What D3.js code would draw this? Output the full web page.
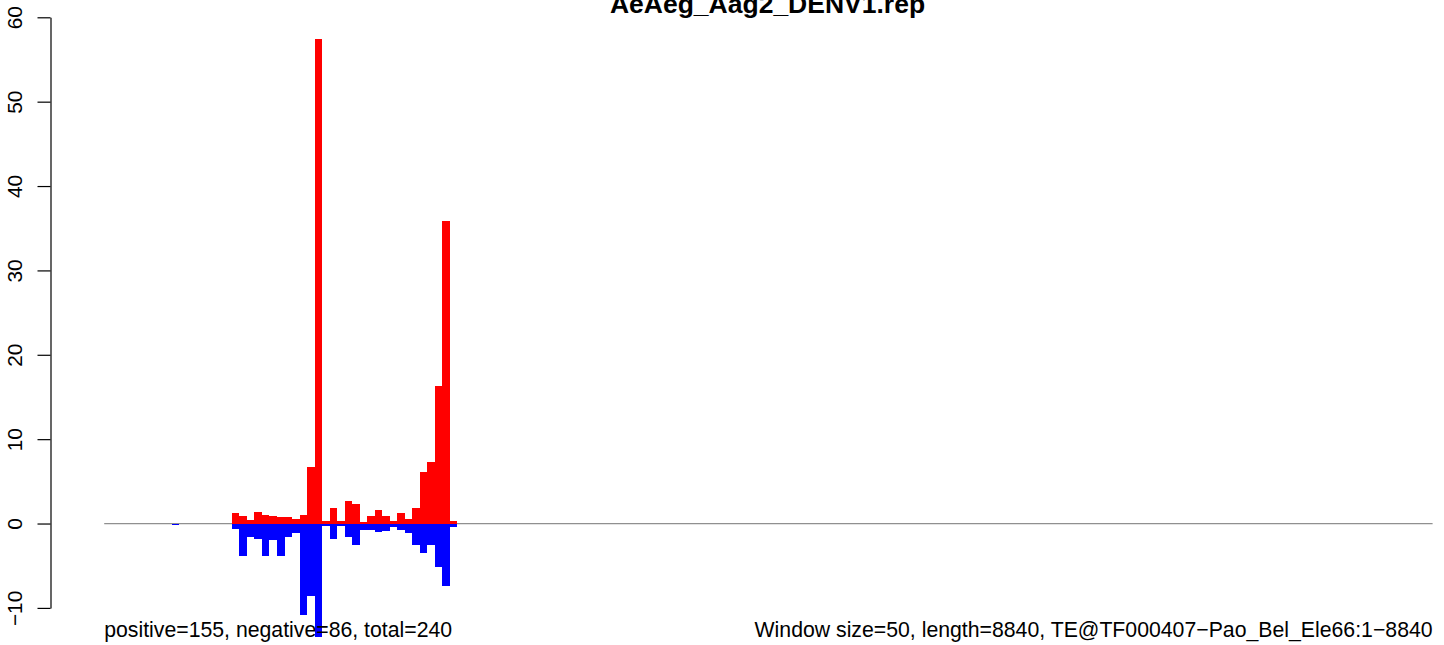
<!DOCTYPE html>
<html>
<head>
<meta charset="utf-8">
<script src="https://cdn.jsdelivr.net/npm/d3@7/dist/d3.min.js"></script>
<style>
  html, body { margin: 0; padding: 0; background: #fff; }
  svg { display: block; }
  text { font-family: "Liberation Sans", Arial, Helvetica, sans-serif; }
</style>
</head>
<body>
<script>
// ---- data ----
const titleText = "AeAeg_Aag2_DENV1.rep";
const seqLength = 8840;
const windowSize = 50;
const binIndex = [9, 17, 18, 19, 20, 21, 22, 23, 24, 25, 26, 27, 28, 29, 30, 31, 32, 33, 34, 35, 36, 37, 38, 39, 40, 41, 42, 43, 44, 45, 46];
const positiveValues = [0, 1.3, 0.85, 0.4, 1.4, 1.05, 0.9, 0.8, 0.8, 0.55, 1.0, 6.7, 57.4, 0.3, 1.85, 0.25, 2.7, 2.3, 0.2, 0.9, 1.6, 0.9, 0.3, 1.28, 0.53, 1.88, 6.14, 7.33, 16.35, 35.8, 0.33];
const negativeValues = [-0.15, -0.6, -3.9, -1.6, -1.8, -3.9, -1.95, -3.85, -1.6, -1.15, -10.9, -8.6, -13.4, -0.26, -1.8, -0.26, -1.56, -2.6, -0.75, -0.72, -1.0, -0.85, -0.47, -0.72, -1.15, -2.6, -3.5, -2.6, -5.1, -7.4, -0.45];
const yTicks = [-10, 0, 10, 20, 30, 40, 50, 60];
const leftNote = "positive=155, negative=86, total=240";
const rightNote = "Window size=50, length=8840, TE@TF000407\u2212Pao_Bel_Ele66:1\u22128840";

const W = 1444, H = 645;
const svg = d3.select("body").append("svg").attr("width", W).attr("height", H);
svg.append("rect").attr("width", W).attr("height", H).attr("fill", "#fff");

const x = d3.scaleLinear().domain([0, seqLength]).range([104.2, 1432.6]);
const y = d3.scaleLinear().domain([-10, 60]).range([607.9, 17.3]);

const bins = binIndex.map((b, i) => ({ start: b * windowSize, end: (b + 1) * windowSize, pos: positiveValues[i], neg: negativeValues[i] }));

// zero line
svg.append("line")
  .attr("x1", x(0)).attr("x2", x(seqLength))
  .attr("y1", y(0)).attr("y2", y(0))
  .attr("stroke", "#909090").attr("stroke-width", 1.2);

// positive bars
svg.append("g").selectAll("rect").data(bins.filter(d => d.pos > 0)).join("rect")
  .attr("x", d => x(d.start)).attr("width", d => x(d.end) - x(d.start))
  .attr("y", d => y(d.pos)).attr("height", d => y(0) - y(d.pos))
  .attr("fill", "#ff0000").attr("shape-rendering", "crispEdges");

// negative bars
svg.append("g").selectAll("rect").data(bins.filter(d => d.neg < 0)).join("rect")
  .attr("x", d => x(d.start)).attr("width", d => x(d.end) - x(d.start))
  .attr("y", y(0)).attr("height", d => y(d.neg) - y(0))
  .attr("fill", "#0000ff").attr("shape-rendering", "crispEdges");

// y axis
const axisX = 50.5;
const yAxis = svg.append("g").attr("transform", `translate(${axisX},0)`)
  .call(d3.axisLeft(y).tickValues(yTicks).tickSize(13).tickSizeOuter(0).tickFormat(d3.format("d")));
yAxis.select(".domain").attr("stroke", "#000").attr("stroke-width", 1.2);
yAxis.selectAll(".tick line").attr("stroke", "#000").attr("stroke-width", 1.2);
yAxis.selectAll(".tick text")
  .attr("transform", "rotate(-90)")
  .attr("x", 0).attr("y", -29).attr("dy", 0)
  .attr("text-anchor", "middle")
  .attr("font-size", 20.8)
  .attr("font-family", "Liberation Sans, Arial, sans-serif")
  .attr("fill", "#000");

// title
svg.append("text").attr("x", 767.5).attr("y", 13)
  .attr("text-anchor", "middle").attr("font-weight", "bold").attr("font-size", 26.5)
  .attr("fill", "#000").text(titleText);

// notes
svg.append("text").attr("x", x(0)).attr("y", 637)
  .attr("text-anchor", "start").attr("font-size", 21.25).attr("fill", "#000").text(leftNote);
svg.append("text").attr("x", x(seqLength)).attr("y", 637)
  .attr("text-anchor", "end").attr("font-size", 21.25).attr("fill", "#000").text(rightNote);
</script>
</body>
</html>
